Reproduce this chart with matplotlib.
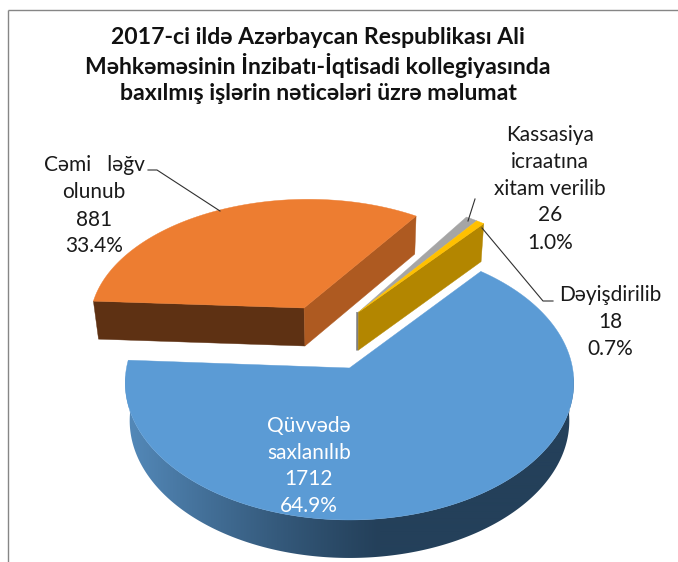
import numpy as np
import matplotlib
matplotlib.use("Agg")
import matplotlib.pyplot as plt
from matplotlib.patches import Polygon

categories = ["Qüvvədə\nsaxlanılıb", "Cəmi   ləğv\nolunub", "Kassasiya\nicraatına\nxitam verilib", "Dəyişdirilib"]
values = [1712, 881, 26, 18]
percents = ["64.9%", "33.4%", "1.0%", "0.7%"]
title_lines = ["2017-ci ildə Azərbaycan Respublikası Ali",
               "Məhkəməsinin İnzibatı-İqtisadi kollegiyasında",
               "baxılmış işlərin nəticələri üzrə məlumat"]

top_colors = ["#5B9BD5", "#ED7D31", "#A5A5A5", "#FFC000"]
side_colors = ["#24405A", "#AE5A21", "#7F7F7F", "#B38600"]
front_colors = ["#24405A", "#5E3113", "#7F7F7F", "#B38600"]
explode = [(0.0, 0.0), (-0.214, -0.464), (0.042, -0.43), (0.042, -0.43)]
squash = [1.0, 0.97, 1.0, 1.0]

FONT = ["Lato", "Noto Sans", "DejaVu Sans"]
CX, CY, R, S, P = 349.5, 368.0, 223.0, 135.7, 0.107
DEPTH, SHRINK = 38.0, 0.98
START = 39.6


def project(a, b):
    w = 1 - P * b
    return CX + R * a / w, CY + S * b / w


def lower(x, y):
    return CX + (np.asarray(x) - CX) * SHRINK, np.asarray(y) + DEPTH


def arc(t0, t1, off, sq=1.0, n=120):
    t = np.radians(np.linspace(t0, t1, n))
    return project(off[0] + np.sin(t), off[1] - sq * np.cos(t))


def mix(c0, c1, f):
    a = np.array(matplotlib.colors.to_rgb(c0))
    b = np.array(matplotlib.colors.to_rgb(c1))
    return a + (b - a) * f


def wall(x0, y0, x1, y1, color, z):
    lx, ly = lower([x0, x1], [y0, y1])
    ax.fill([x0, x1, lx[1], lx[0]], [y0, y1, ly[1], ly[0]], color=color, lw=0.3, zorder=z)


fig = plt.figure(figsize=(6.78, 5.62), dpi=100)
ax = fig.add_axes([0, 0, 1, 1])
ax.set_xlim(0, 678)
ax.set_ylim(562, 0)
ax.axis("off")

# frame
ax.plot([8, 8], [562, 9.5], color="#868686", lw=1.0, solid_capstyle="butt")
ax.plot([8, 678], [9.5, 9.5], color="#868686", lw=1.0, solid_capstyle="butt")

spans = 360.0 * np.array(values) / sum(values)
starts = START + np.concatenate([[0], np.cumsum(spans)[:-1]])

# exploded slices: walls then top
for i in [1, 2, 3]:
    t0, t1 = starts[i], starts[i] + spans[i]
    off = explode[i]
    ax0, ay0 = project(*off)
    ex, ey = arc(t0, t0, off, squash[i], 1)
    sx, sy = arc(t1, t1, off, squash[i], 1)
    if i == 1:
        wall(ex[0], ey[0], ax0, ay0, front_colors[i], 2)
        wall(ax0, ay0, sx[0], sy[0], side_colors[i], 2)
    elif i == 2:
        wall(ax0 - 2, ay0, ax0, ay0, side_colors[i], 3)
    else:
        wall(ax0, ay0, sx[0], sy[0], side_colors[i], 3)
    x, y = arc(t0, t1, off, squash[i])
    ax.fill(np.r_[ax0, x], np.r_[ay0, y], color=top_colors[i], lw=0.3, zorder=4)

# blue slice: curved wall with horizontal shading, then top
t0, t1 = starts[0], starts[0] + spans[0]
x, y = arc(t0, t1, explode[0], 1.0, 480)
front = (y > 375) | (x < CX) & (y > 375)
wx, wy = x[front], y[front]
lx, ly = lower(wx, wy)
clip = Polygon(np.c_[np.r_[wx, lx[::-1]], np.r_[wy, ly[::-1]]], closed=True,
               transform=ax.transData, facecolor="none", edgecolor="none")
ax.add_patch(clip)
xs = np.arange(100, 600)
f = np.clip((380 - xs) / 250, 0, 1) ** 1.15
grad = np.array([mix("#24405A", "#5388B8", v) for v in f])[None, :, :]
im = ax.imshow(grad, extent=(100, 600, 570, 360), aspect="auto", zorder=5, interpolation="bilinear")
im.set_clip_path(clip)
ax.set_xlim(0, 678)
ax.set_ylim(562, 0)
ax0, ay0 = project(*explode[0])
ax.fill(np.r_[ax0, x], np.r_[ay0, y], color=top_colors[0], lw=0.3, zorder=6)

# leader lines
lead = dict(color="#303030", lw=0.8, zorder=7)
ax.plot([148, 157, 220], [170, 170, 211], **lead)
ax.plot([475, 468], [199, 221], **lead)
ax.plot([482, 543, 553], [228, 301, 301], **lead)

# title
for line, yy in zip(title_lines, [38, 65, 93]):
    ax.text(318, yy, line, ha="center", va="center", fontsize=16.6,
            fontweight="bold", family=FONT, color="#111111", zorder=8)


# labels
def label(xc, ys, lines, color):
    for yy, t in zip(ys, lines):
        ax.text(xc, yy, t, ha="center", va="center", fontsize=15, family=FONT, color=color, zorder=8)


label(94, [165, 192, 220, 246], categories[1].split("\n") + [str(values[1]), percents[1]], "#1a1a1a")
label(550, [135, 162, 189, 215, 243], categories[2].split("\n") + [str(values[2]), percents[2]], "#1a1a1a")
label(610, [295, 322, 349], categories[3].split("\n") + [str(values[3]), percents[3]], "#1a1a1a")
label(309, [426, 453, 479, 506], categories[0].split("\n") + [str(values[0]), percents[0]], "white")

fig.savefig("out.png", dpi=100)
